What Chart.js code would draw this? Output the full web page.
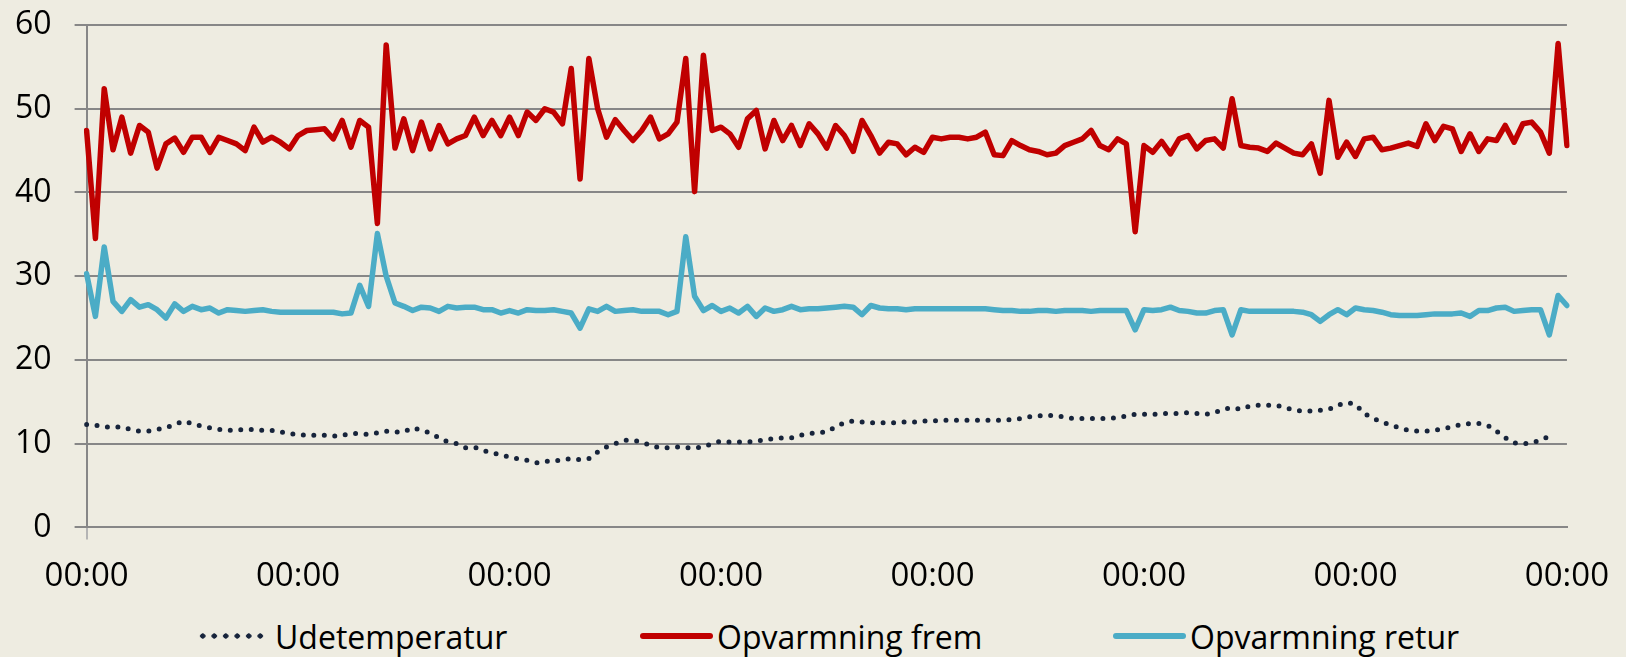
<!DOCTYPE html>
<html lang="da">
<head>
    <meta charset="UTF-8">
    <title>Opvarmning - november</title>
    <!-- Chart.js -->
    <script src="https://cdn.jsdelivr.net/npm/chart.js"></script>
    <style>
        html, body {
            margin: 0;
            padding: 0;
            background-color: #EEECE1;
            overflow: hidden;
            font-family: 'Open Sans', sans-serif;
        }
        .page {
            position: relative;
            width: 1626px;
            height: 657px;
        }
        .chart-box {
            position: absolute;
            top: 0;
            left: 0;
            width: 1626px;
            height: 600px;
        }
        #legend {
            list-style: none;
            margin: 0;
            padding: 0;
            position: absolute;
            top: 613px;
            left: 0;
            width: 1626px;
            height: 46px;
        }
        #legend li {
            position: absolute;
            top: 0;
            height: 46px;
            display: flex;
            align-items: center;
            font-size: 32px;
            color: #000;
            white-space: nowrap;
        }
        #legend li:nth-child(1) { left: 197px; }
        #legend li:nth-child(2) { left: 640px; }
        #legend li:nth-child(3) { left: 1113px; }
        #legend .mark {
            display: inline-block;
            width: 73px;
            height: 6px;
            margin-right: 4px;
            border-radius: 3px;
            background: currentColor;
        }
        #legend .mark.dotted {
            width: 70px;
            margin-right: 8px;
            border-radius: 0;
            background: radial-gradient(circle, currentColor 2.4px, transparent 2.9px) left center / 11.5px 6px repeat-x;
        }
    </style>
</head>
<body>
    <div class="page">
        <div class="chart-box">
            <canvas id="opvarmningChart"></canvas>
        </div>
        <ul id="legend"></ul>
    </div>

    <script>
        // Timeværdier over 7 døgn (169 målinger, en pr. time)
        const udetemperatur = [
            12.3, 12.2, 12.0, 12.0, 12.0, 11.7, 11.5, 11.5, 11.7, 11.9,
            12.3, 12.7, 12.4, 12.1, 11.9, 11.7, 11.6, 11.6, 11.7, 11.7,
            11.6, 11.6, 11.4, 11.2, 11.1, 11.0, 11.0, 11.0, 10.9, 11.0,
            11.2, 11.2, 11.1, 11.3, 11.5, 11.4, 11.4, 11.9, 11.6, 11.3,
            10.7, 10.2, 10.0, 9.5, 9.6, 9.2, 8.9, 8.7, 8.4, 8.2,
            8.0, 7.7, 7.9, 7.9, 8.1, 8.2, 8.1, 8.2, 9.0, 9.6,
            10.0, 10.4, 10.4, 10.2, 9.8, 9.5, 9.5, 9.6, 9.5, 9.5,
            9.6, 10.0, 10.3, 10.2, 10.2, 10.2, 10.3, 10.5, 10.6, 10.7,
            10.7, 11.0, 11.2, 11.3, 11.4, 12.0, 12.5, 12.7, 12.6, 12.5,
            12.5, 12.5, 12.5, 12.6, 12.6, 12.7, 12.7, 12.8, 12.8, 12.8,
            12.8, 12.8, 12.8, 12.8, 12.8, 12.9, 13.0, 13.2, 13.3, 13.4,
            13.3, 13.2, 13.0, 13.0, 13.0, 13.0, 13.0, 13.1, 13.3, 13.5,
            13.5, 13.5, 13.6, 13.6, 13.6, 13.7, 13.6, 13.5, 13.7, 14.1,
            14.3, 14.1, 14.5, 14.6, 14.6, 14.6, 14.3, 14.0, 13.9, 13.9,
            14.0, 14.1, 14.6, 14.9, 14.7, 13.6, 13.0, 12.6, 12.2, 11.9,
            11.6, 11.5, 11.5, 11.6, 11.8, 12.0, 12.3, 12.4, 12.4, 12.2,
            11.5, 10.7, 10.1, 10.0, 10.1, 10.4, 10.9, null, null
        ];
        const opvarmningFrem = [
            47.4, 34.5, 52.4, 45.1, 49.0, 44.7, 48.0, 47.2, 42.9, 45.8,
            46.5, 44.8, 46.6, 46.6, 44.8, 46.6, 46.2, 45.8, 45.0, 47.8,
            46.0, 46.6, 46.0, 45.2, 46.8, 47.4, 47.5, 47.6, 46.4, 48.6,
            45.4, 48.6, 47.8, 36.3, 57.6, 45.3, 48.8, 45.0, 48.4, 45.2,
            48.0, 45.8, 46.4, 46.8, 49.0, 46.8, 48.6, 46.8, 49.0, 46.8,
            49.6, 48.6, 50.0, 49.6, 48.2, 54.8, 41.6, 56.0, 50.0, 46.6,
            48.7, 47.4, 46.2, 47.4, 49.0, 46.4, 47.0, 48.4, 56.0, 40.1,
            56.4, 47.4, 47.8, 47.0, 45.4, 48.8, 49.8, 45.2, 48.6, 46.2,
            48.0, 45.6, 48.2, 47.0, 45.3, 48.0, 46.8, 44.9, 48.6, 46.8,
            44.7, 46.0, 45.8, 44.5, 45.4, 44.8, 46.6, 46.4, 46.6, 46.6,
            46.4, 46.6, 47.2, 44.5, 44.4, 46.2, 45.6, 45.1, 44.9, 44.5,
            44.7, 45.6, 46.0, 46.4, 47.4, 45.6, 45.1, 46.4, 45.8, 35.3,
            45.6, 44.8, 46.1, 44.6, 46.4, 46.8, 45.2, 46.2, 46.4, 45.3,
            51.2, 45.6, 45.4, 45.3, 44.9, 45.9, 45.3, 44.7, 44.5, 45.8,
            42.3, 51.0, 44.2, 46.0, 44.3, 46.4, 46.6, 45.1, 45.3, 45.6,
            45.9, 45.5, 48.2, 46.2, 47.9, 47.6, 44.9, 47.0, 44.9, 46.4,
            46.2, 48.0, 46.0, 48.2, 48.4, 47.2, 44.7, 57.8, 45.6
        ];
        const opvarmningRetur = [
            30.3, 25.2, 33.5, 27.0, 25.8, 27.2, 26.3, 26.6, 26.0, 25.0,
            26.7, 25.8, 26.4, 26.0, 26.2, 25.6, 26.0, 25.9, 25.8, 25.9,
            26.0, 25.8, 25.7, 25.7, 25.7, 25.7, 25.7, 25.7, 25.7, 25.5,
            25.6, 28.9, 26.4, 35.1, 30.0, 26.8, 26.4, 25.9, 26.3, 26.2,
            25.8, 26.4, 26.2, 26.3, 26.3, 26.0, 26.0, 25.6, 25.9, 25.6,
            26.0, 25.9, 25.9, 26.0, 25.8, 25.6, 23.8, 26.1, 25.8, 26.4,
            25.8, 25.9, 26.0, 25.8, 25.8, 25.8, 25.4, 25.8, 34.7, 27.6,
            25.9, 26.5, 25.8, 26.2, 25.6, 26.4, 25.2, 26.2, 25.8, 26.0,
            26.4, 26.0, 26.1, 26.1, 26.2, 26.3, 26.4, 26.3, 25.4, 26.5,
            26.2, 26.1, 26.1, 26.0, 26.1, 26.1, 26.1, 26.1, 26.1, 26.1,
            26.1, 26.1, 26.1, 26.0, 25.9, 25.9, 25.8, 25.8, 25.9, 25.9,
            25.8, 25.9, 25.9, 25.9, 25.8, 25.9, 25.9, 25.9, 25.9, 23.6,
            26.0, 25.9, 26.0, 26.3, 25.9, 25.8, 25.6, 25.6, 25.9, 26.0,
            23.0, 26.0, 25.8, 25.8, 25.8, 25.8, 25.8, 25.8, 25.7, 25.4,
            24.6, 25.4, 26.0, 25.4, 26.2, 26.0, 25.9, 25.7, 25.4, 25.3,
            25.3, 25.3, 25.4, 25.5, 25.5, 25.5, 25.6, 25.2, 25.9, 25.9,
            26.2, 26.3, 25.8, 25.9, 26.0, 26.0, 23.0, 27.7, 26.5
        ];

        // Klokkeslæt for hver måling, kun midnat vises på aksen
        const tidspunkter = opvarmningFrem.map((v, i) => String(i % 24).padStart(2, '0') + ':00');
        const midnat = '00:00';

        Chart.defaults.font.family = "'Open Sans', sans-serif";
        Chart.defaults.color = '#000000';

        // Legend som HTML under grafen (samme punkter som Chart.js' egen legend)
        const htmlLegend = {
            id: 'htmlLegend',
            afterUpdate(chart) {
                const list = document.getElementById('legend');
                list.innerHTML = '';
                chart.options.plugins.legend.labels.generateLabels(chart).forEach(item => {
                    const li = document.createElement('li');
                    const mark = document.createElement('span');
                    mark.className = item.lineDash && item.lineDash.length ? 'mark dotted' : 'mark';
                    mark.style.color = item.strokeStyle;
                    const text = document.createElement('span');
                    text.textContent = item.text;
                    li.appendChild(mark);
                    li.appendChild(text);
                    list.appendChild(li);
                });
            }
        };

        new Chart(document.getElementById('opvarmningChart'), {
            type: 'line',
            data: {
                labels: tidspunkter,
                datasets: [
                    {
                        label: 'Udetemperatur',
                        data: udetemperatur,
                        borderColor: '#17243B',
                        backgroundColor: '#17243B',
                        borderWidth: 5,
                        borderDash: [0, 10.5],
                        borderCapStyle: 'round'
                    },
                    {
                        label: 'Opvarmning frem',
                        data: opvarmningFrem,
                        borderColor: '#C00000',
                        backgroundColor: '#C00000',
                        borderWidth: 5.5,
                        borderCapStyle: 'round',
                        borderJoinStyle: 'round'
                    },
                    {
                        label: 'Opvarmning retur',
                        data: opvarmningRetur,
                        borderColor: '#4BACC6',
                        backgroundColor: '#4BACC6',
                        borderWidth: 5.5,
                        borderCapStyle: 'round',
                        borderJoinStyle: 'round'
                    }
                ]
            },
            options: {
                responsive: true,
                maintainAspectRatio: false,
                animation: false,
                elements: { point: { radius: 0 }, line: { tension: 0 } },
                layout: { padding: { top: 25, left: 15, right: 59, bottom: 4 } },
                scales: {
                    x: {
                        grid: {
                            color: ctx => tidspunkter[ctx.index] === midnat ? '#B4B4B4' : 'transparent',
                            lineWidth: 2,
                            tickLength: 12
                        },
                        border: { color: '#878787', width: 2 },
                        ticks: {
                            autoSkip: false,
                            maxRotation: 0,
                            padding: 17,
                            font: { size: 33 },
                            callback: function (value) {
                                const t = this.getLabelForValue(value);
                                return t === midnat ? t : null;
                            }
                        },
                        // kun afstand mellem streg og tekst, ikke under teksten
                        afterFit: scale => { scale.height -= scale.options.ticks.padding; }
                    },
                    y: {
                        min: 0,
                        max: 60,
                        grid: { color: '#878787', lineWidth: 2, tickLength: 12 },
                        border: { color: '#878787', width: 2 },
                        ticks: { stepSize: 10, padding: 23, font: { size: 32 } },
                        afterFit: scale => {
                            scale.width -= scale.options.ticks.padding;
                            scale.paddingTop = 0;
                            scale.paddingBottom = 0;
                        }
                    }
                },
                plugins: {
                    tooltip: { enabled: false },
                    legend: { display: false }
                }
            },
            plugins: [htmlLegend]
        });
    </script>
</body>
</html>
